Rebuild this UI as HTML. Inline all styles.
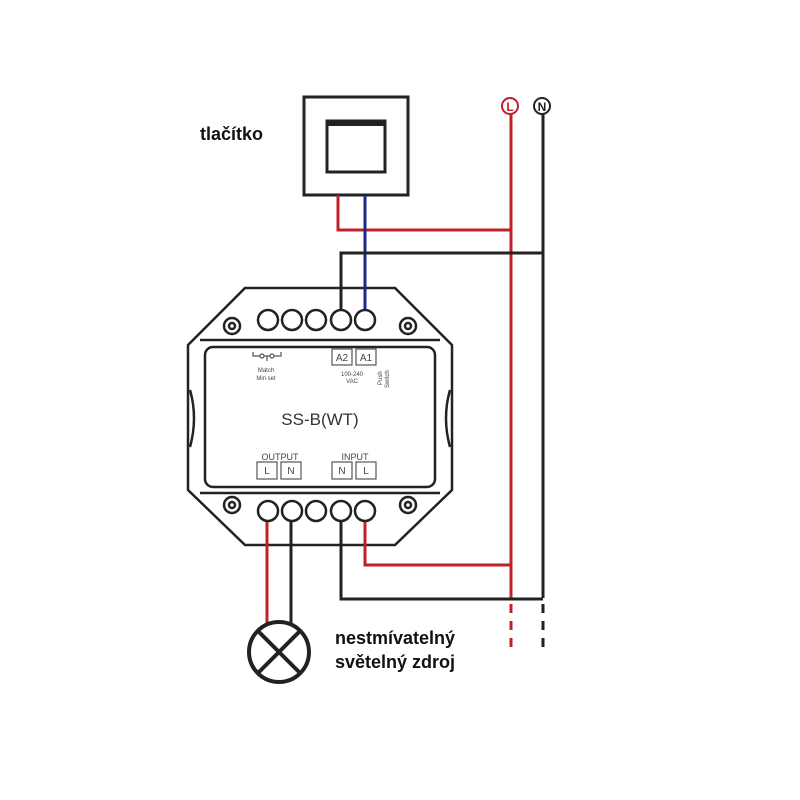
<!DOCTYPE html>
<html><head><style>body{margin:0;background:#fff}svg{display:block}</style></head><body>
<svg width="800" height="800" viewBox="0 0 800 800" xmlns="http://www.w3.org/2000/svg" font-family="Liberation Sans, sans-serif">
<rect width="800" height="800" fill="#fff"/>
<!-- switch -->
<rect x="304" y="97" width="104" height="98" fill="#fff" stroke="#222" stroke-width="3"/>
<rect x="327" y="121" width="58" height="51" fill="#fff" stroke="#222" stroke-width="3"/>
<rect x="327" y="120" width="58" height="6" fill="#222"/>
<text x="200" y="140" font-size="18" font-weight="bold" fill="#111">tlačítko</text>
<!-- L N -->
<circle cx="510" cy="106" r="8" fill="#fff" stroke="#c0202a" stroke-width="2"/>
<text x="510" y="111" font-size="12" font-weight="bold" fill="#c0202a" text-anchor="middle">L</text>
<circle cx="542" cy="106" r="8" fill="#fff" stroke="#222" stroke-width="2"/>
<text x="542" y="111" font-size="12" font-weight="bold" fill="#222" text-anchor="middle">N</text>
<!-- device -->
<g fill="#fff" stroke="#222" stroke-width="2.5">
<polygon points="245,288 395,288 452,345 452,490 395,545 245,545 188,490 188,345"/>
<line x1="200" y1="340" x2="440" y2="340"/>
<line x1="200" y1="493" x2="440" y2="493"/>
<path d="M190,390 Q198,418 190,447" fill="none"/>
<path d="M450,390 Q442,418 450,447" fill="none"/>
<rect x="205" y="347" width="230" height="140" rx="8"/>
<circle cx="268" cy="320" r="10"/><circle cx="292" cy="320" r="10"/><circle cx="316" cy="320" r="10"/><circle cx="341" cy="320" r="10"/><circle cx="365" cy="320" r="10"/>
<circle cx="268" cy="511" r="10"/><circle cx="292" cy="511" r="10"/><circle cx="316" cy="511" r="10"/><circle cx="341" cy="511" r="10"/><circle cx="365" cy="511" r="10"/>
<circle cx="232" cy="326" r="8"/><circle cx="232" cy="326" r="3"/>
<circle cx="408" cy="326" r="8"/><circle cx="408" cy="326" r="3"/>
<circle cx="232" cy="505" r="8"/><circle cx="232" cy="505" r="3"/>
<circle cx="408" cy="505" r="8"/><circle cx="408" cy="505" r="3"/>
</g>
<!-- wires -->
<g fill="none" stroke-width="3">
<polyline points="338,195 338,230 511,230" stroke="#c0202a"/>
<line x1="511" y1="114" x2="511" y2="598" stroke="#c0202a"/>
<line x1="511" y1="604" x2="511" y2="648" stroke="#c0202a" stroke-dasharray="9,8"/>
<line x1="543" y1="114" x2="543" y2="598" stroke="#222"/>
<line x1="543" y1="604" x2="543" y2="648" stroke="#222" stroke-dasharray="9,8"/>
<line x1="365" y1="195" x2="365" y2="309" stroke="#1c2a8a"/>
<polyline points="341,309 341,253 543,253" stroke="#222"/>
<polyline points="365,522 365,565 511,565" stroke="#c0202a"/>
<polyline points="341,522 341,599 543,599" stroke="#222"/>
<line x1="267" y1="522" x2="267" y2="623" stroke="#c0202a"/>
<line x1="291" y1="522" x2="291" y2="623" stroke="#222"/>
</g>
<g fill="#fff" stroke="#555" stroke-width="1.2">
<rect x="332" y="349" width="20" height="16"/><rect x="356" y="349" width="20" height="16"/>
<rect x="257" y="462" width="20" height="17"/><rect x="281" y="462" width="20" height="17"/>
<rect x="332" y="462" width="20" height="17"/><rect x="356" y="462" width="20" height="17"/>
<path d="M253,352 v4 h28 v-4 M267,356 v5" fill="none"/>
<circle cx="262" cy="356" r="2"/><circle cx="272" cy="356" r="2"/>
</g>
<g fill="#444" text-anchor="middle">
<text x="342" y="361" font-size="10">A2</text><text x="366" y="361" font-size="10">A1</text>
<text x="267" y="474" font-size="10">L</text><text x="291" y="474" font-size="10">N</text>
<text x="342" y="474" font-size="10">N</text><text x="366" y="474" font-size="10">L</text>
<text x="280" y="460" font-size="9">OUTPUT</text><text x="355" y="460" font-size="9">INPUT</text>
<text x="266" y="372" font-size="6">Match</text><text x="266" y="380" font-size="6">Min set</text>
<text x="352" y="376" font-size="6">100-240</text><text x="352" y="383" font-size="6">VAC</text>
<text x="320" y="425" font-size="17" fill="#333">SS-B(WT)</text>
</g>
<text font-size="6" fill="#444" transform="translate(382,385) rotate(-90)">Push</text>
<text font-size="6" fill="#444" transform="translate(389,388) rotate(-90)">Switch</text>
<!-- lamp -->
<g stroke="#222" stroke-width="4" fill="none">
<circle cx="279" cy="652" r="30"/>
<line x1="258" y1="631" x2="300" y2="673"/><line x1="300" y1="631" x2="258" y2="673"/>
</g>
<text x="335" y="644" font-size="18" font-weight="bold" fill="#111">nestmívatelný</text>
<text x="335" y="668" font-size="18" font-weight="bold" fill="#111">světelný zdroj</text>
</svg>
</body></html>
